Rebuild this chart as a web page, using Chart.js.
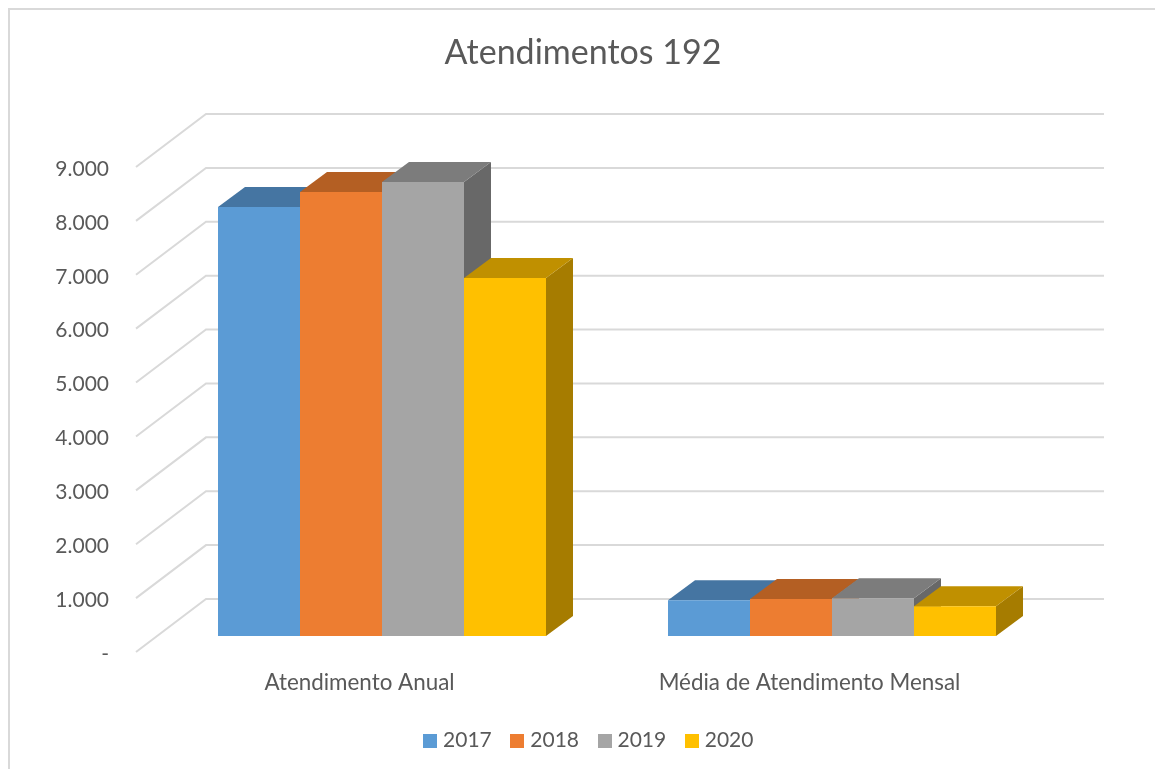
<!DOCTYPE html>
<html>
<head>
<meta charset="utf-8">
<title>Atendimentos 192</title>
<style>
    html, body { margin: 0; padding: 0; background: #fff; overflow: hidden; }
    #frame { position: absolute; left: 8px; top: 8px; width: 1147px; height: 761px; border-left: 2px solid #d9d9d9; border-top: 2px solid #d9d9d9; box-sizing: border-box; }
    #chart { position: absolute; left: 0; top: 0; }
</style>
</head>
<body>
<div id="frame"></div>
<canvas id="chart" width="1155" height="769"></canvas>
<script src="https://cdn.jsdelivr.net/npm/chart.js@4/dist/chart.umd.min.js"></script>
<script>
const categories = ['Atendimento Anual', 'Média de Atendimento Mensal'];
const years = ['2017', '2018', '2019', '2020'];
const values2017 = [7960, 663];
const values2018 = [8238, 686];
const values2019 = [8423, 702];
const values2020 = [6642, 554];
const yTickLabels = ['-', '1.000', '2.000', '3.000', '4.000', '5.000', '6.000', '7.000', '8.000', '9.000'];

const frontColors = ['#5b9bd5', '#ed7d31', '#a5a5a5', '#ffc000'];
const topColors = ['#4575a2', '#b45f23', '#7c7c7c', '#c09000'];
const sideColors = ['#3b6489', '#9a5220', '#686868', '#a67c00'];

const TEXT = '#595959';
const FONT = 'Lato';

// small square for the legend, the box itself is kept narrow so the text sits close to it
function swatch(color) {
    const c = document.createElement('canvas');
    c.width = 14;
    c.height = 14;
    const ctx = c.getContext('2d');
    ctx.fillStyle = color;
    ctx.fillRect(0, 0, 14, 14);
    return c;
}

// gridlines run along the floor side and then across the back wall
const wallPlugin = {
    id: 'wall',
    beforeDatasetsDraw(chart) {
        const { ctx, scales } = chart;
        ctx.save();
        ctx.strokeStyle = '#d9d9d9';
        ctx.lineWidth = 2;
        scales.y.ticks.forEach(t => {
            const y = scales.y.getPixelForValue(t.value);
            ctx.beginPath();
            ctx.moveTo(136, y + 16);
            ctx.lineTo(206, y - 37);
            ctx.lineTo(1104, y - 37);
            ctx.stroke();
        });
        ctx.restore();
    }
};

// top and side faces of the bars, the library paints the fronts over them afterwards
const depthPlugin = {
    id: 'depth',
    beforeDatasetsDraw(chart) {
        const { ctx } = chart;
        const dx = 27, dy = 20;
        ctx.save();
        categories.forEach((c, i) => {
            chart.data.datasets.forEach((ds, d) => {
                const bar = chart.getDatasetMeta(d).data[i];
                const left = bar.x - bar.width / 2;
                const right = bar.x + bar.width / 2;

                ctx.fillStyle = sideColors[d];
                ctx.beginPath();
                ctx.moveTo(right, bar.y);
                ctx.lineTo(right + dx, bar.y - dy);
                ctx.lineTo(right + dx, bar.base - dy);
                ctx.lineTo(right, bar.base);
                ctx.closePath();
                ctx.fill();

                ctx.fillStyle = topColors[d];
                ctx.beginPath();
                ctx.moveTo(left, bar.y);
                ctx.lineTo(left + dx, bar.y - dy);
                ctx.lineTo(right + dx, bar.y - dy);
                ctx.lineTo(right, bar.y);
                ctx.closePath();
                ctx.fill();
            });
        });
        ctx.restore();
    }
};

// title and legend are centred on the whole frame, not on the space left of the right margin
const centerShift = {
    id: 'centerShift',
    afterLayout(chart) {
        chart.titleBlock.left += 54.5;
        chart.titleBlock.right += 54.5;
        chart.legend.left += 62;
        chart.legend.right += 62;
    }
};

const seriesValues = [values2017, values2018, values2019, values2020];

new Chart(document.getElementById('chart'), {
    type: 'bar',
    data: {
        labels: categories,
        datasets: years.map((y, i) => ({
            label: y,
            data: seriesValues[i],
            backgroundColor: frontColors[i],
            barPercentage: 1,
            categoryPercentage: 328 / 450
        }))
    },
    options: {
        responsive: false,
        animation: false,
        layout: { padding: { left: 0, right: 98, top: 0, bottom: 8 } },
        scales: {
            x: {
                grid: { display: false },
                border: { display: false },
                ticks: {
                    color: TEXT,
                    font: { family: FONT, size: 22.4 },
                    labelOffset: -22.5,
                    padding: 25,
                    maxRotation: 0,
                    autoSkip: false
                },
                afterFit(scale) { scale.height = 71; }
            },
            y: {
                min: 0,
                max: 9000,
                grid: { display: false },
                border: { display: false },
                ticks: {
                    stepSize: 1000,
                    color: TEXT,
                    font: { family: FONT, size: 21 },
                    padding: 40,
                    labelOffset: 18,
                    callback: (v, i) => yTickLabels[i]
                },
                afterFit(scale) { scale.width = 157; }
            }
        },
        plugins: {
            title: {
                display: true,
                text: 'Atendimentos 192',
                color: TEXT,
                font: { family: FONT, size: 34, weight: 'normal' },
                padding: { top: 32.6, bottom: 77.6 }
            },
            legend: {
                position: 'bottom',
                labels: {
                    color: TEXT,
                    font: { family: FONT, size: 21 },
                    usePointStyle: true,
                    pointStyleWidth: 5,
                    padding: 23,
                    generateLabels(chart) {
                        return years.map((y, i) => ({
                            text: y,
                            fontColor: TEXT,
                            pointStyle: swatch(frontColors[i]),
                            lineWidth: 0,
                            datasetIndex: i
                        }));
                    }
                }
            },
            tooltip: { enabled: false }
        }
    },
    plugins: [wallPlugin, depthPlugin, centerShift]
});
</script>
</body>
</html>
